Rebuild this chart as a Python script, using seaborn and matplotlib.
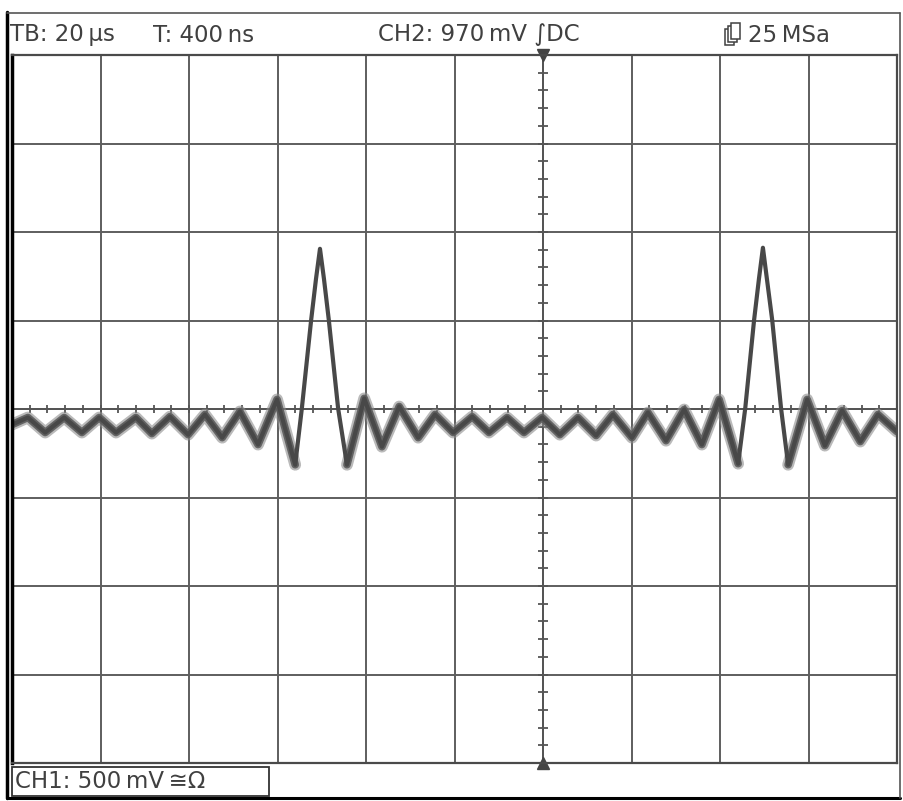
import numpy as np
import pandas as pd
import matplotlib
matplotlib.use("Agg")
import matplotlib.pyplot as plt
from matplotlib.patches import Rectangle
from matplotlib.lines import Line2D
import seaborn as sns

# ---- data (time in µs from left edge, voltage in mV) ----
time_us = [0.0, 3.6, 7.5, 11.8, 15.8, 19.7, 23.5, 28.0, 31.6, 35.7, 39.8, 43.6,
           47.5, 51.5, 55.6, 59.9, 64.0, 65.5, 67.6, 68.7, 69.6, 70.5,
           71.6, 73.7, 75.7, 79.6, 83.6, 87.5, 91.8, 95.6, 99.7, 104.0,
           107.8, 111.9, 115.7, 119.8, 123.8, 127.9, 132.0, 135.8, 140.1, 143.7,
           147.8, 151.9, 155.9, 159.8, 164.1, 165.7, 167.7, 168.8, 169.7,
           170.6, 171.8, 173.8, 175.4, 179.7, 183.7, 187.6, 191.7, 195.7,
           200.0]
volt_mv = [-88, -48, -133, -48, -133, -48, -133, -48, -139, -43, -145, -31,
           -162, -14, -201, 54, -315, 3, 502, 735, 905, 735,
           502, 3, -315, 60, -213, 14, -162, -31, -133, -43,
           -133, -48, -133, -48, -145, -48, -150, -31, -162, -20,
           -179, -3, -201, 54, -309, 3, 502, 735, 911,
           735, 502, 3, -315, 54, -207, -9, -184, -31,
           -128]

time_per_div_us = 20
volt_per_div_mv = 500
n_xdiv = 10
n_ydiv = 8
trigger_div = 6

header_texts = ["TB: 20\u2009µs", "T: 400\u2009ns", "CH2: 970\u2009mV \u222bDC", "25\u2009MSa"]
footer_text = "CH1: 500\u2009mV\u2009\u2245\u03a9"

df = pd.DataFrame({"t": time_us, "v": volt_mv})
# noisy ripple band everywhere except the two main pulses
seg = np.where(df.t <= 64.0, 0, np.where((df.t >= 75.7) & (df.t <= 164.1), 1,
               np.where(df.t >= 175.4, 2, -1)))
df["seg"] = seg
band = df[df.seg >= 0]

sns.set_style("white")
plt.rcParams["font.family"] = ["DejaVu Sans"]

W, H = 904, 801
fig = plt.figure(figsize=(W / 100, H / 100), dpi=100)
L, R, T, B = 12, 897, 55, 763
ax = fig.add_axes([L / W, 1 - B / H, (R - L) / W, (B - T) / H])

xmax = time_per_div_us * n_xdiv
ymax = volt_per_div_mv * n_ydiv / 2
ax.set_xlim(0, xmax)
ax.set_ylim(-ymax, ymax)
ax.set_xticks(np.arange(0, xmax + 1, time_per_div_us))
ax.set_yticks(np.arange(-ymax, ymax + 1, volt_per_div_mv))
ax.grid(True, color="#5e5e5e", lw=1.4)
ax.tick_params(length=0, labelbottom=False, labelleft=False)
for s in ax.spines.values():
    s.set_color("#4a4a4a")
    s.set_linewidth(1.6)
ax.spines["left"].set_color("black")
ax.spines["left"].set_linewidth(2.5)

# center graticule lines with minor ticks
xc = trigger_div * time_per_div_us
ax.axhline(0, color="#555555", lw=1.4)
ax.axvline(xc, color="#555555", lw=1.4)
mt = np.arange(0, xmax + 0.1, time_per_div_us / 5)
ax.plot(mt, np.zeros_like(mt), ls="none", marker="|", ms=6, mew=1.3, color="#555555")
mv = np.arange(-ymax, ymax + 0.1, volt_per_div_mv / 5)
ax.plot(np.full_like(mv, xc), mv, ls="none", marker="_", ms=7, mew=1.3, color="#555555")
ax.plot([xc], [ymax], marker="v", ms=8, color="#444444", clip_on=False)
ax.plot([xc], [-ymax], marker="^", ms=8, color="#444444", clip_on=False)

# trace: fuzzy noise band + core line
sns.lineplot(data=band, x="t", y="v", units="seg", estimator=None, ax=ax,
             color="#8c8c8c", lw=8.5, alpha=0.6, sort=False, legend=False)
sns.lineplot(data=band, x="t", y="v", units="seg", estimator=None, ax=ax,
             color="#5a5a5a", lw=5.5, alpha=0.9, sort=False, legend=False)
sns.lineplot(data=df, x="t", y="v", estimator=None, ax=ax, color="#484848",
             lw=3.0, sort=False, legend=False)
ax.set_xlabel("")
ax.set_ylabel("")

# frame
fig.add_artist(Line2D([7 / W, 7 / W], [1 - 12 / H, 1 - 798 / H], color="black", lw=2.5))
fig.add_artist(Line2D([7 / W, 900 / W], [1 - 798 / H, 1 - 798 / H], color="black", lw=2.2))
fig.add_artist(Line2D([7 / W, 900 / W], [1 - 13 / H, 1 - 13 / H], color="#555555", lw=1.2))
fig.add_artist(Line2D([900 / W, 900 / W], [1 - 13 / H, 1 - 798 / H], color="#555555", lw=1.2))

# header text
tc = "#404040"
fs = 16.5
ty = 1 - 35 / H
fig.text(10 / W, ty, header_texts[0], fontsize=fs, color=tc, va="center")
fig.text(153 / W, ty, header_texts[1], fontsize=fs, color=tc, va="center")
fig.text(378 / W, ty, header_texts[2], fontsize=fs, color=tc, va="center")
fig.text(748 / W, ty, header_texts[3], fontsize=fs, color=tc, va="center")
# stacked-acquisition icon
for k in range(3):
    fig.add_artist(Rectangle(((725 + 3 * k) / W, 1 - (45 - 3 * k) / H), 9 / W, 16 / H,
                             fill=True, facecolor="white", edgecolor=tc, lw=1.1))

# footer box
fig.add_artist(Rectangle((12 / W, 1 - 796 / H), 257 / W, 29 / H, fill=False,
                         edgecolor="#333333", lw=1.3))
fig.text(15 / W, 1 - 782 / H, footer_text, fontsize=fs, color=tc, va="center")

fig.savefig("out.png", dpi=100, facecolor="white")
